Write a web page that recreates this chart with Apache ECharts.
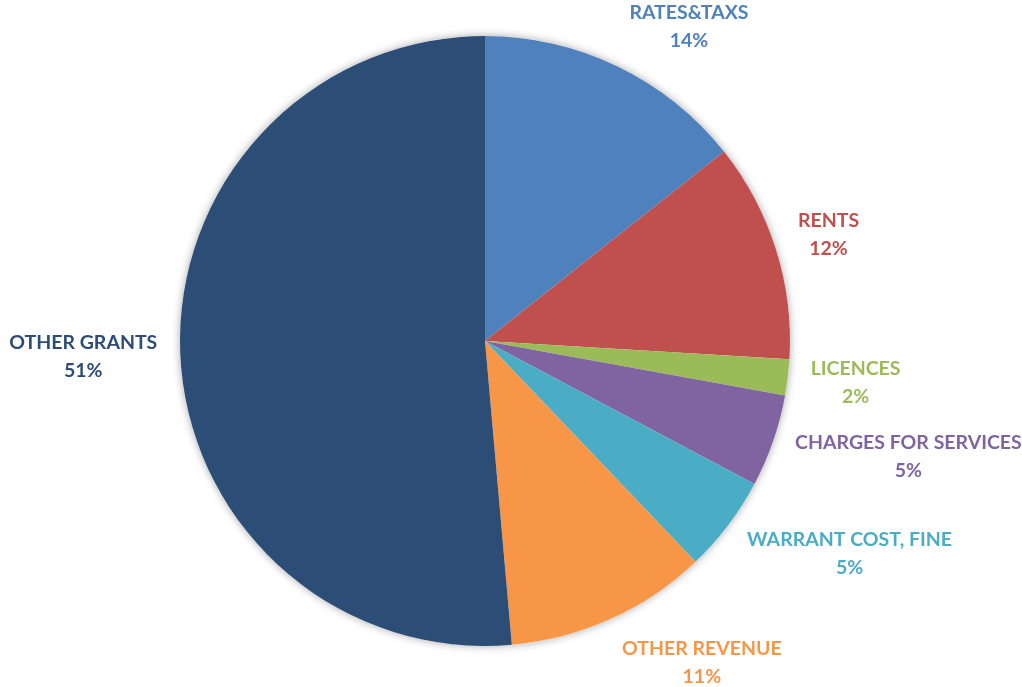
<!DOCTYPE html>
<html>
<head>
<meta charset="utf-8">
<script src="https://cdn.jsdelivr.net/npm/echarts@6/dist/echarts.min.js"></script>
<style>
  html, body { margin: 0; padding: 0; background: #fff; }
  #main { width: 1022px; height: 687px; }
</style>
</head>
<body>
<div id="main"></div>
<script>
// revenue split, clockwise from 12 o'clock
var categories = ['RATES&TAXS', 'RENTS', 'LICENCES', 'CHARGES FOR SERVICES', 'WARRANT COST, FINE', 'OTHER REVENUE', 'OTHER GRANTS'];
var values = [14.3, 11.6, 1.9, 4.9, 5.1, 10.7, 51.3];
var colors = ['#4F81BD', '#C0504D', '#9BBB59', '#8064A2', '#4BACC6', '#F79646', '#2C4D75'];

var cx = 485, cy = 341, R = 305, gap = 20;

var total = values.reduce(function (s, v) { return s + v; }, 0);
var midAngle = [];
var acc = 0;
values.forEach(function (v) {
  midAngle.push((acc + v / 2) / total * Math.PI * 2);
  acc += v;
});

var chart = echarts.init(document.getElementById('main'));

var option = {
  animation: false,
  series: [
    {
      // soft shadow under the pie
      type: 'pie',
      silent: true,
      center: [cx, cy],
      radius: R,
      label: { show: false },
      labelLine: { show: false },
      itemStyle: { color: '#fff', shadowBlur: 8, shadowColor: 'rgba(0,0,0,0.35)' },
      data: [1]
    },
    {
      type: 'pie',
      center: [cx, cy],
      radius: R,
      startAngle: 90,
      clockwise: true,
      avoidLabelOverlap: false,
      data: categories.map(function (c, i) {
        return {
          name: c,
          value: values[i],
          itemStyle: { color: colors[i] },
          label: { color: colors[i] }
        };
      }),
      label: {
        show: true,
        position: 'outside',
        fontFamily: 'Lato',
        fontWeight: 'bold',
        fontSize: 19.5,
        lineHeight: 28,
        align: 'center',
        formatter: function (p) {
          return p.name + '\n' + Math.round(p.percent) + '%';
        }
      },
      labelLine: { show: false },
      labelLayout: function (p) {
        var a = midAngle[p.dataIndex];
        var ux = Math.sin(a), uy = -Math.cos(a);
        var w = p.labelRect.width, h = p.labelRect.height;
        var x = cx + (R + gap) * ux + (ux < 0 ? -1 : 1) * (w / 2 + 3);
        var y = cy + (R + gap) * uy + uy * h / 2;
        y = Math.max(y, h / 2 - 1);
        return { x: x, y: y, align: 'center', verticalAlign: 'middle' };
      }
    }
  ]
};

chart.setOption(option);
</script>
</body>
</html>
